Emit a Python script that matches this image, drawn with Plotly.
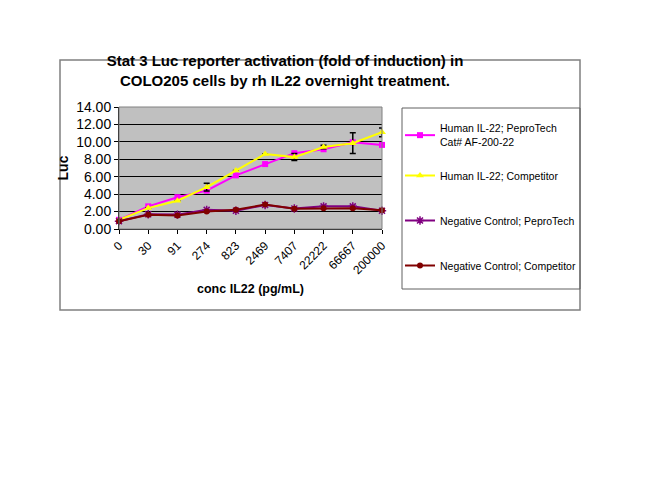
import plotly.graph_objects as go

conc = ["0", "30", "91", "274", "823", "2469", "7407", "22222", "66667", "200000"]

human_peprotech = [1.05, 2.6, 3.65, 4.4, 6.15, 7.45, 8.7, 9.15, 9.95, 9.65]
human_competitor = [1.05, 2.4, 3.25, 4.8, 6.7, 8.6, 8.25, 9.4, 9.85, 11.1]
competitor_err = [0, 0, 0, 0.45, 0, 0, 0.4, 0.2, 1.2, 0.5]
neg_peprotech = [0.9, 1.7, 1.65, 2.2, 2.1, 2.75, 2.35, 2.6, 2.6, 2.1]
neg_competitor = [0.88, 1.64, 1.56, 2.02, 2.2, 2.8, 2.33, 2.37, 2.37, 2.14]

# page body adds an 8px margin, so positions below are the reference ones minus 8
OFF = 8
W, H = 650, 502
L, R, T, B = 119 - OFF, 382 - OFF, 107 - OFF, 229 - OFF


def px(x):
    return (x - OFF - L) / (R - L)


def py(y):
    return (B - (y - OFF)) / (B - T)


fig = go.Figure()
fig.add_trace(go.Scatter(
    x=conc, y=human_peprotech, name="Human IL-22; PeproTech<br>Cat# AF-200-22",
    mode="lines+markers", line=dict(color="#FF00FF", width=2),
    marker=dict(symbol="square", size=6, color="#FF00FF"),
    legend="legend", cliponaxis=False,
))
fig.add_trace(go.Scatter(
    x=conc, y=human_competitor, name="Human IL-22; Competitor",
    mode="lines+markers", line=dict(color="#FFFF00", width=2),
    marker=dict(symbol="triangle-up", size=7, color="#FFFF00"),
    error_y=dict(type="data", array=competitor_err, color="black", thickness=1.5, width=3),
    legend="legend2", cliponaxis=False,
))
fig.add_trace(go.Scatter(
    x=conc, y=neg_peprotech, name="Negative Control; PeproTech",
    mode="lines+markers", line=dict(color="#800080", width=2),
    marker=dict(symbol="asterisk-open", size=7, line=dict(color="#800080", width=1.5)),
    legend="legend3", cliponaxis=False,
))
fig.add_trace(go.Scatter(
    x=conc, y=neg_competitor, name="Negative Control; Competitor",
    mode="lines+markers", line=dict(color="#800000", width=2),
    marker=dict(symbol="circle", size=6, color="#800000"),
    legend="legend4", cliponaxis=False,
))

legend_style = dict(xanchor="left", yanchor="top", font=dict(size=10.5),
                    borderwidth=0, bgcolor="rgba(0,0,0,0)", itemwidth=30)

fig.update_layout(
    width=W, height=H,
    margin=dict(l=L, r=W - R, t=T, b=H - B, autoexpand=False),
    paper_bgcolor="white", plot_bgcolor="#C0C0C0",
    font=dict(family="Arial, Liberation Sans", size=12, color="black"),
    title=dict(
        text="<b>Stat 3 Luc reporter activation (fold of induction) in<br>COLO205 cells by rh IL22 overnight treatment.</b>",
        x=(285 - OFF) / W, xanchor="center", xref="container",
        y=1 - (66 - OFF) / H, yanchor="top", yref="container",
        font=dict(size=15, family="Arial, Liberation Sans"),
    ),
    showlegend=True,
    legend=dict(x=px(400), y=py(115), **legend_style),
    legend2=dict(x=px(400), y=py(161), **legend_style),
    legend3=dict(x=px(400), y=py(206), **legend_style),
    legend4=dict(x=px(400), y=py(251), **legend_style),
    shapes=[
        dict(type="rect", xref="paper", yref="paper",
             x0=px(60), x1=px(580), y0=py(310), y1=py(60),
             line=dict(color="#808080", width=1.5), layer="below"),
        dict(type="rect", xref="paper", yref="paper",
             x0=px(402), x1=px(580), y0=py(289), y1=py(108),
             line=dict(color="#606060", width=1)),
        dict(type="rect", xref="paper", yref="paper",
             x0=0, x1=1, y0=0, y1=1,
             line=dict(color="#808080", width=1)),
    ],
)

fig.update_xaxes(
    type="category", range=[0, len(conc) - 1],
    tickangle=-45, ticks="outside", ticklen=4, tickcolor="black",
    showline=True, linecolor="black", linewidth=1, showgrid=False,
    tickfont=dict(size=12),
    title=dict(text="<b>conc IL22 (pg/mL)</b>", font=dict(size=12.5), standoff=8),
)
fig.update_yaxes(
    range=[0, 14], dtick=2, tickformat=".2f",
    ticks="outside", ticklen=4, tickcolor="black",
    showline=True, linecolor="black", linewidth=1,
    showgrid=True, gridcolor="black", gridwidth=1, zeroline=False,
    tickfont=dict(size=14),
    title=dict(text="<b>Luc</b>", font=dict(size=14), standoff=4),
)

fig.write_html("out.html")
